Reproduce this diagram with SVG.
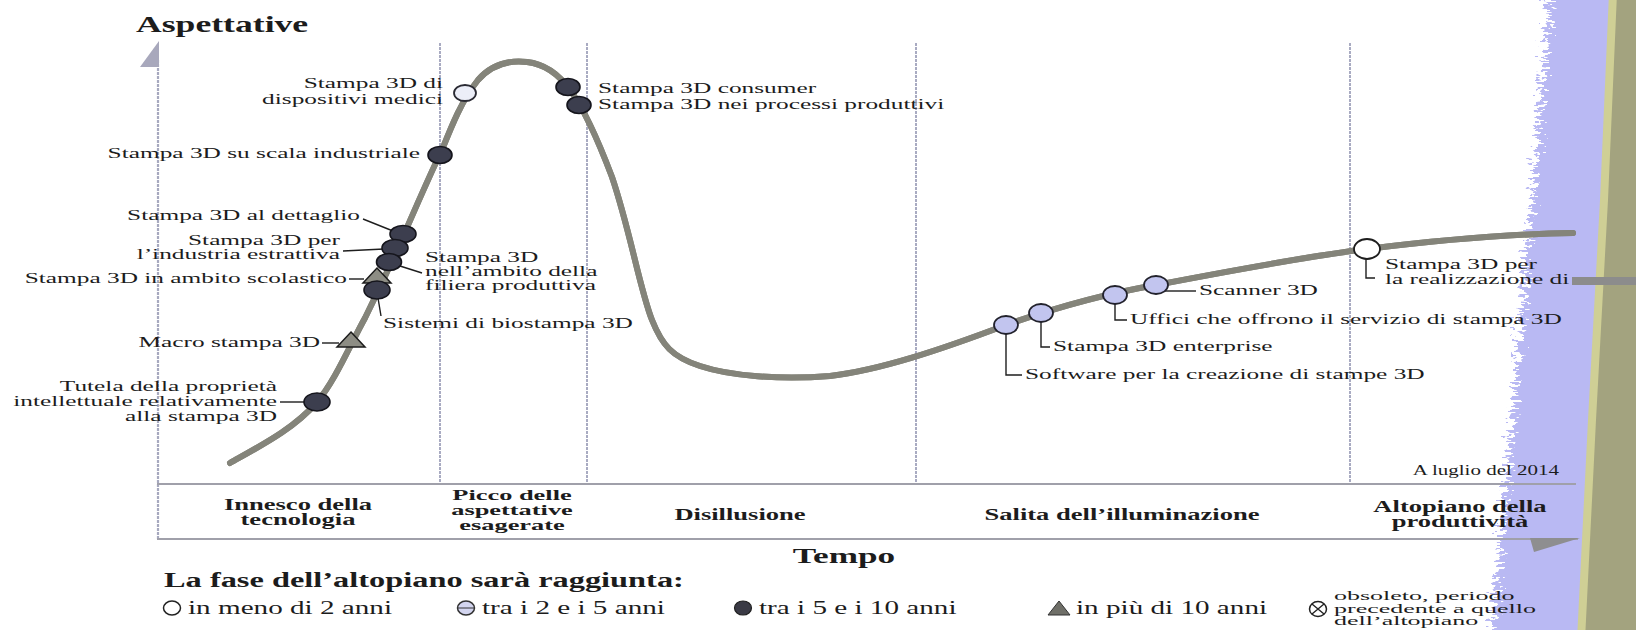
<svg xmlns="http://www.w3.org/2000/svg" width="1636" height="630" viewBox="0 0 1636 630">
<defs>
<style>
text{font-family:"Liberation Serif","Times New Roman",serif;fill:#1c1c1c}
.l{font-size:14px}
.s{font-size:13px}
.e{text-anchor:end}
.m{text-anchor:middle}
.bt{font-size:16px;font-weight:bold;text-anchor:middle}
.bp{font-size:14.5px;font-weight:bold;text-anchor:middle}
.lg{font-size:18px}
.dk{fill:#3c3e4e;stroke:#15151c;stroke-width:1.6}
.lb{fill:#c2c5ef;stroke:#22222c;stroke-width:1.8}
.wh{fill:#fff;stroke:#1e1e1e;stroke-width:1.8}
.vl{fill:#eceef8;stroke:#2a2a33;stroke-width:1.8}
.tr{fill:#8d8d84;stroke:#1c1c1c;stroke-width:1.5}
.ld{fill:none;stroke:#1e1e1e;stroke-width:1.4}
.dv{stroke:#a9abc2;stroke-width:2;stroke-dasharray:3 1}
.hl{stroke:#a0a0aa;stroke-width:2}
</style>
<filter id="rough" x="-20%" y="-5%" width="140%" height="110%">
<feTurbulence type="fractalNoise" baseFrequency="0.12 0.4" numOctaves="2" seed="4" result="n"/>
<feDisplacementMap in="SourceGraphic" in2="n" scale="34" xChannelSelector="R" yChannelSelector="G"/>
</filter>
</defs>
<rect width="1636" height="630" fill="#fff"/>
<g id="bands">
<polygon filter="url(#rough)" fill="#b9b9f3" points="1552,-30 1532,200 1512,420 1490,660 1660,660 1660,-30"/>
<polygon fill="#cfcf95" points="1610,-30 1600,200 1588,420 1576,660 1660,660 1660,-30"/>
<polygon fill="#a3a37f" points="1618,-30 1608,200 1596,420 1584,660 1660,660 1660,-30"/>
</g>
<g id="axes">
<line class="dv" x1="440" y1="43" x2="440" y2="484"/>
<line class="dv" x1="587" y1="43" x2="587" y2="484"/>
<line class="dv" x1="916" y1="43" x2="916" y2="484"/>
<line class="dv" x1="1350" y1="43" x2="1350" y2="484"/>
<line x1="158" y1="60" x2="158" y2="539" stroke="#a7a9bf" stroke-width="2.2" stroke-dasharray="3 1"/>
<polygon points="159,41 159,67 140,67" fill="#a8a8bc"/>
<line class="hl" x1="157" y1="484" x2="1576" y2="484"/>
<line class="hl" x1="157" y1="539" x2="1578" y2="539"/>
<polygon points="1530,538 1580,538 1534,552" fill="#8e8e90"/>
</g>
<g id="curve" fill="none" stroke-linecap="round">
<path id="hype" stroke="#84847a" stroke-width="6" d="M230,463 C262,445 295,428 317,402 C335,381 350,345 365,318 C380,288 395,255 405,232 C420,198 432,170 442,150 C452,125 462,100 478,80 C492,64 510,60 527,62 C545,64 560,76 570,90 C585,110 598,140 612,177 C630,230 640,290 652,320 C662,345 672,357 700,366 C730,376 780,380 830,376 C880,370 940,350 1006,325 C1060,306 1110,293 1156,285 C1250,267 1310,256 1367,249 C1440,240 1510,234 1573,233"/>
<use href="#hype" stroke="#b2b29a" stroke-width="3"/>
</g>
<g id="connectors">
<polyline class="ld" points="363,219 393,231"/>
<polyline class="ld" points="343,251 384,249"/>
<polyline class="ld" points="400,266 422,273"/>
<polyline class="ld" points="349,279 364,279"/>
<polyline class="ld" points="378,298 381,316"/>
<polyline class="ld" points="322,343 339,343"/>
<polyline class="ld" points="280,402 304,402"/>
<polyline class="ld" points="1006,334 1006,375 1022,375"/>
<polyline class="ld" points="1041,322 1041,347 1050,347"/>
<polyline class="ld" points="1115,304 1115,320 1127,320"/>
<polyline class="ld" points="1165,291 1196,291"/>
<polyline class="ld" points="1366,259 1366,278 1375,278"/>
</g>
<g id="n-medici"><ellipse class="vl" cx="465" cy="93" rx="11" ry="8"/>
<text class="l e" transform="translate(443,88) scale(1.81,1)">Stampa 3D di</text>
<text class="l e" transform="translate(443,104) scale(1.81,1)">dispositivi medici</text></g>
<g id="n-consumer"><ellipse class="dk" cx="568" cy="87" rx="12" ry="8.5"/>
<text class="l" transform="translate(598,93) scale(1.81,1)">Stampa 3D consumer</text></g>
<g id="n-processi"><ellipse class="dk" cx="579" cy="105" rx="12" ry="8.5"/>
<text class="l" transform="translate(598,109) scale(1.81,1)">Stampa 3D nei processi produttivi</text></g>
<g id="n-industriale"><ellipse class="dk" cx="440" cy="155" rx="12" ry="8.5"/>
<text class="l e" transform="translate(420,158) scale(1.81,1)">Stampa 3D su scala industriale</text></g>
<g id="n-dettaglio"><ellipse class="dk" cx="403" cy="234" rx="13" ry="8.5"/>
<text class="l e" transform="translate(360,220) scale(1.81,1)">Stampa 3D al dettaglio</text></g>
<g id="n-estrattiva"><ellipse class="dk" cx="395" cy="248" rx="13" ry="8.5"/>
<text class="l e" transform="translate(340,245) scale(1.81,1)">Stampa 3D per</text>
<text class="l e" transform="translate(340,259) scale(1.81,1)">l’industria estrattiva</text></g>
<g id="n-filiera"><ellipse class="dk" cx="389" cy="262" rx="12.5" ry="8.5"/>
<text class="l" transform="translate(425,262) scale(1.81,1)">Stampa 3D</text>
<text class="l" transform="translate(425,276) scale(1.81,1)">nell’ambito della</text>
<text class="l" transform="translate(425,290) scale(1.81,1)">filiera produttiva</text></g>
<g id="n-scolastico"><polygon class="tr" points="377,268 391,283 363,283"/>
<text class="l e" transform="translate(347,283) scale(1.81,1)">Stampa 3D in ambito scolastico</text></g>
<g id="n-biostampa"><ellipse class="dk" cx="377" cy="290" rx="13" ry="9"/>
<text class="l" transform="translate(383,328) scale(1.81,1)">Sistemi di biostampa 3D</text></g>
<g id="n-macro"><polygon class="tr" points="351,332 365,347 337,347"/>
<text class="l e" transform="translate(320,347) scale(1.81,1)">Macro stampa 3D</text></g>
<g id="n-tutela"><ellipse class="dk" cx="317" cy="402" rx="13" ry="9"/>
<text class="l e" transform="translate(277,391) scale(1.81,1)">Tutela della proprietà</text>
<text class="l e" transform="translate(277,406) scale(1.81,1)">intellettuale relativamente</text>
<text class="l e" transform="translate(277,421) scale(1.81,1)">alla stampa 3D</text></g>
<g id="n-software"><ellipse class="lb" cx="1006" cy="325" rx="12" ry="9"/>
<text class="l" transform="translate(1025,379) scale(1.81,1)">Software per la creazione di stampe 3D</text></g>
<g id="n-enterprise"><ellipse class="lb" cx="1041" cy="313" rx="12" ry="9"/>
<text class="l" transform="translate(1053,351) scale(1.81,1)">Stampa 3D enterprise</text></g>
<g id="n-uffici"><ellipse class="lb" cx="1115" cy="295" rx="12" ry="9"/>
<text class="l" transform="translate(1130,324) scale(1.81,1)">Uffici che offrono il servizio di stampa 3D</text></g>
<g id="n-scanner"><ellipse class="lb" cx="1156" cy="285" rx="12" ry="9"/>
<text class="l" transform="translate(1199,295) scale(1.81,1)">Scanner 3D</text></g>
<g id="n-prototipi"><ellipse class="wh" cx="1367" cy="249" rx="13" ry="10"/>
<text class="l" transform="translate(1385,269) scale(1.81,1)">Stampa 3D per</text>
<text class="l" transform="translate(1385,284) scale(1.81,1)">la realizzazione di</text>
<rect x="1572" y="277" width="64" height="8" fill="#8c8c8c"/></g>
<g id="titles">
<text transform="translate(136,32) scale(1.55,1)" style="font-size:23px;font-weight:bold">Aspettative</text>
<text class="l e" transform="translate(1559,475) scale(1.5,1)">A luglio del 2014</text>
<text class="m" transform="translate(844,563) scale(1.6,1)" style="font-size:22px;font-weight:bold">Tempo</text>
</g>
<g id="phases">
<text class="bt" transform="translate(298,510) scale(1.66,1)">Innesco della</text>
<text class="bt" transform="translate(298,525) scale(1.66,1)">tecnologia</text>
<text class="bp" transform="translate(512,500) scale(1.82,1)">Picco delle</text>
<text class="bp" transform="translate(512,515) scale(1.82,1)">aspettative</text>
<text class="bp" transform="translate(512,530) scale(1.82,1)">esagerate</text>
<text class="bt" transform="translate(740,520) scale(1.66,1)">Disillusione</text>
<text class="bt" transform="translate(1122,520) scale(1.66,1)">Salita dell’illuminazione</text>
<text class="bt" transform="translate(1460,512) scale(1.66,1)">Altopiano della</text>
<text class="bt" transform="translate(1460,527) scale(1.66,1)">produttività</text>
</g>
<g id="legend">
<text transform="translate(164,587) scale(1.62,1)" style="font-size:20px;font-weight:bold">La fase dell’altopiano sarà raggiunta:</text>
<ellipse cx="172" cy="608" rx="8.5" ry="7" fill="none" stroke="#222" stroke-width="1.5"/>
<text class="lg" transform="translate(188,614) scale(1.62,1)">in meno di 2 anni</text>
<ellipse cx="466" cy="608" rx="8.5" ry="7" fill="#d3d5ef" stroke="#333" stroke-width="1.5"/>
<line x1="458" y1="608" x2="474" y2="608" stroke="#333" stroke-width="1"/>
<text class="lg" transform="translate(482,614) scale(1.62,1)">tra i 2 e i 5 anni</text>
<ellipse cx="743" cy="608" rx="8.5" ry="7" fill="#3a3a45" stroke="#222" stroke-width="1.2"/>
<text class="lg" transform="translate(759,614) scale(1.62,1)">tra i 5 e i 10 anni</text>
<polygon points="1059,601 1070,615 1048,615" fill="#6f6f68" stroke="#333" stroke-width="1"/>
<text class="lg" transform="translate(1076,614) scale(1.62,1)">in più di 10 anni</text>
<ellipse cx="1318" cy="609" rx="8.5" ry="7.5" fill="none" stroke="#222" stroke-width="1.5"/>
<path d="M1312,604 L1324,614 M1324,604 L1312,614" stroke="#222" stroke-width="1.4"/>
<text class="s" transform="translate(1334,600) scale(2,1)">obsoleto, periodo</text>
<text class="s" transform="translate(1334,613) scale(2,1)">precedente a quello</text>
<text class="s" transform="translate(1334,625) scale(2,1)">dell’altopiano</text>
</g>
</svg>
